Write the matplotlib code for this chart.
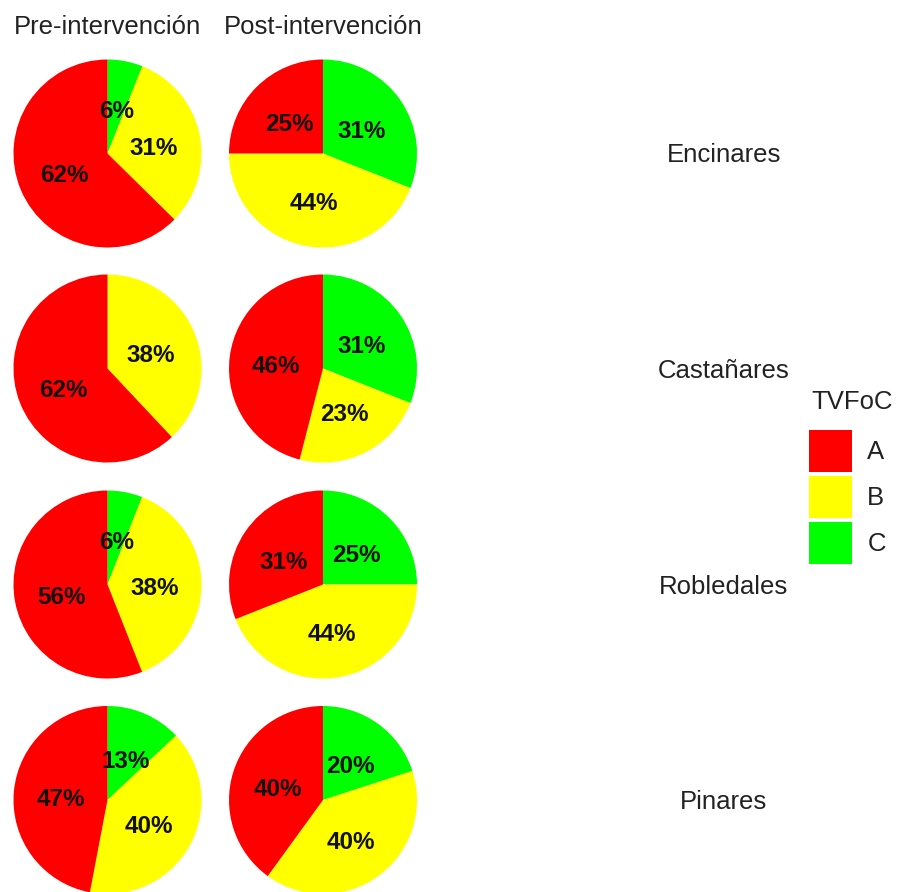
import math

import matplotlib.pyplot as plt
from matplotlib.patches import Patch

plt.rcParams["font.family"] = ["Liberation Sans", "DejaVu Sans"]

# percentages per forest type, slices ordered C, B, A (clockwise from 12 o'clock)
forests = ["Encinares", "Castañares", "Robledales", "Pinares"]
periods = ["Pre-intervención", "Post-intervención"]
classes = ["C", "B", "A"]
pre = [[6, 31, 62], [0, 38, 62], [6, 38, 56], [13, 40, 47]]
post = [[31, 44, 25], [31, 23, 46], [25, 44, 31], [20, 40, 40]]

colors = {"A": "#ff0000", "B": "#ffff00", "C": "#00ff00"}

W, H = 903, 892
fig = plt.figure(figsize=(W / 100, H / 100), dpi=100)

col_x = [107.5, 323]
row_y = [153.5, 368.5, 584.5, 800]
R = 94

for i, forest in enumerate(forests):
    for j, data in enumerate([pre, post]):
        vals = data[i]
        cx, cy = col_x[j], row_y[i]
        ax = fig.add_axes([(cx - R) / W, (H - cy - R) / H, 2 * R / W, 2 * R / H])
        ax.pie(vals, colors=[colors[c] for c in classes], startangle=90,
               counterclock=False, radius=1, wedgeprops=dict(linewidth=0))
        ax.set_xlim(-1, 1)
        ax.set_ylim(-1, 1)
        ax.set_aspect("equal")
        ax.axis("off")
        # labels at half radius on each slice's mid angle
        total = sum(vals)
        start = 0
        for v in vals:
            if v > 0:
                mid = (start + v / 2) / total * 2 * math.pi
                x = 0.5 * math.sin(mid)
                y = 0.5 * math.cos(mid) - 0.045
                ax.text(x, y, f"{v}%", ha="center", va="center", fontsize=17.5,
                        fontweight="bold", color="#111111")
            start += v
        if i == 0:
            fig.text(cx / W, 1 - 27 / H, periods[j], ha="center", va="center",
                     fontsize=18.5, color="#222222")
    fig.text(724 / W, 1 - (row_y[i] + 2) / H, forest, ha="center", va="center",
             fontsize=18.5, color="#222222")

# legend: title placed on its own, keys below it
fig.text(811 / W, 1 - 402 / H, "TVFoC", ha="left", va="center",
         fontsize=18.5, color="#222222")
handles = [Patch(facecolor=colors[c], edgecolor="none") for c in ["A", "B", "C"]]
leg = fig.legend(handles, ["A", "B", "C"], frameon=False,
                 loc="upper left", bbox_to_anchor=(791 / W, 1 - 412 / H),
                 fontsize=18.5, handlelength=1.67,
                 handleheight=2.14, labelspacing=0.15, handletextpad=0.6,
                 borderpad=0.2)
for t in leg.get_texts():
    t.set_color("#222222")

fig.savefig("out.png", dpi=100, facecolor="white")
